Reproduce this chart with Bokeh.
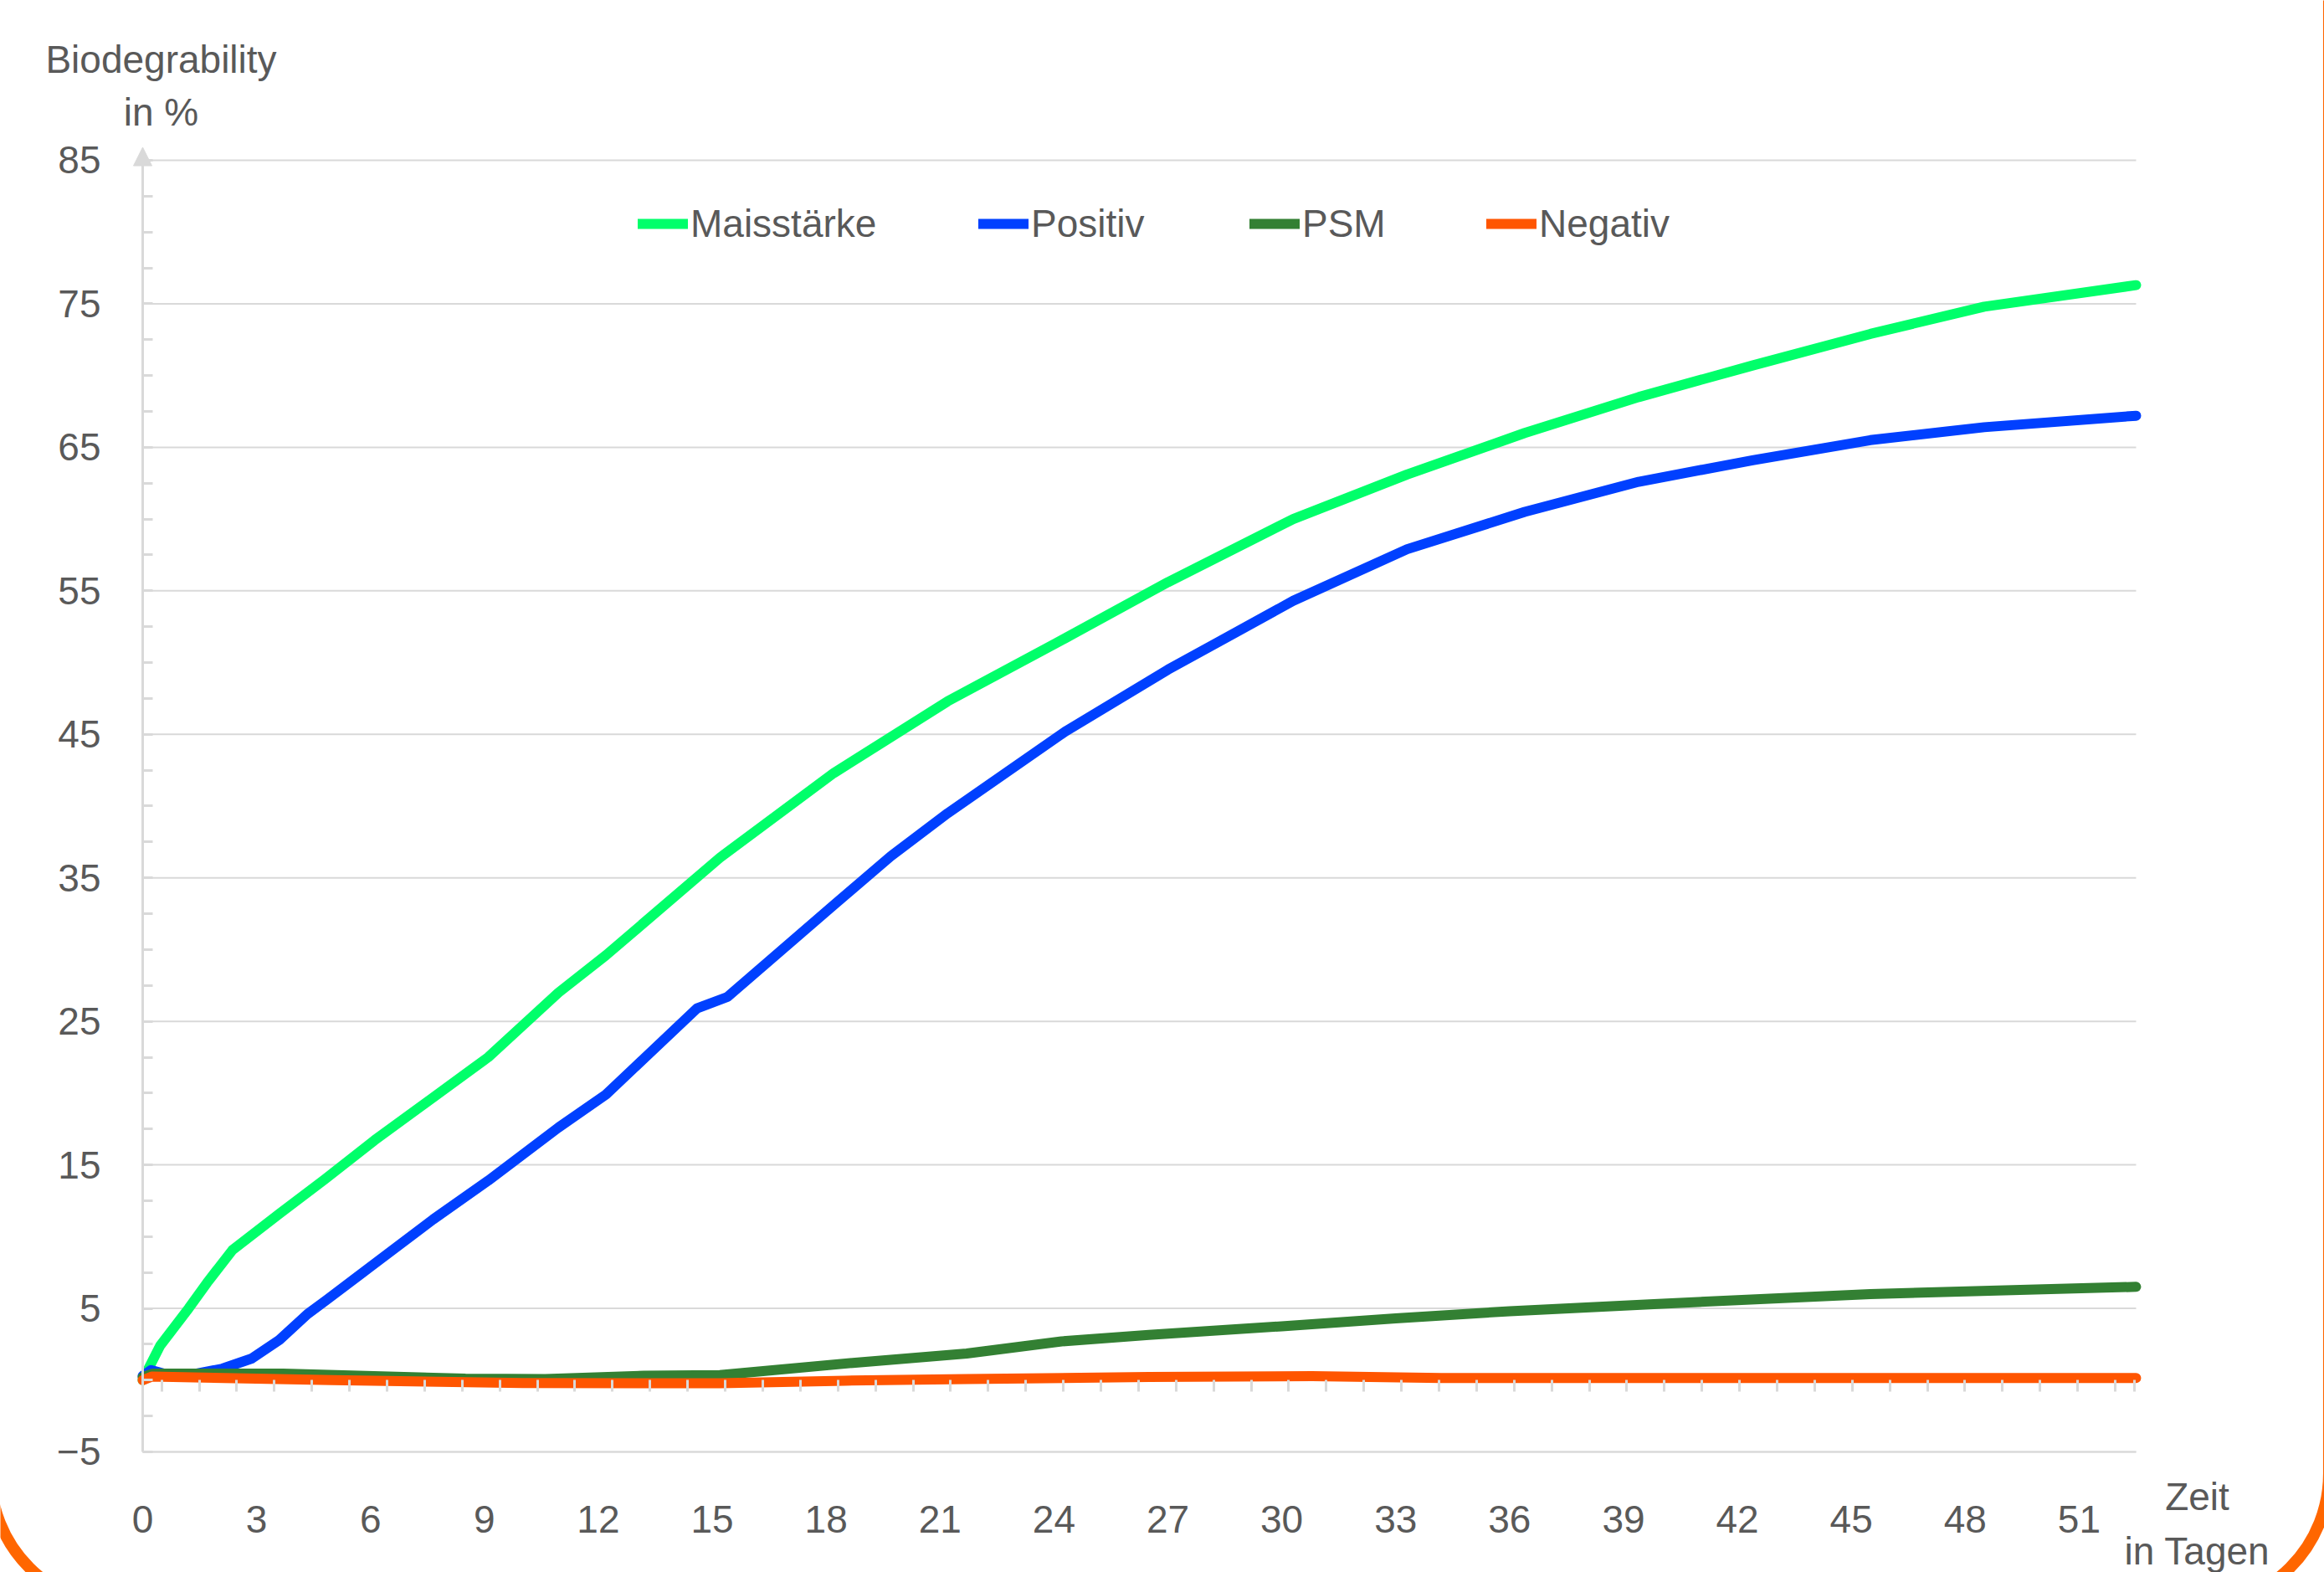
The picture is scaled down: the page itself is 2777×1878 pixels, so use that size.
import numpy as np
from bokeh.plotting import figure
from bokeh.models import (FixedTicker, LinearAxis, Range1d, Legend, LegendItem,
                          Label, Arrow, NormalHead, BoxAnnotation)
from bokeh.embed import file_html
from bokeh.resources import INLINE

# ---------------- data ----------------
mais_days = [0, 0.46, 1.21, 1.7, 2.36, 3.6, 4.8, 6.1, 9.1, 10.95, 12.2, 15.2,
             18.2, 21.2, 24.3, 27.0, 30.3, 33.3, 36.4, 39.4, 42.4, 45.5, 48.5, 52.5]
mais_vals = [0.0, 2.4, 5.0, 6.8, 9.05, 11.6, 14.0, 16.7, 22.5, 27.0, 29.6, 36.4,
             42.3, 47.3, 51.7, 55.6, 60.0, 63.1, 66.0, 68.5, 70.7, 72.9, 74.8, 76.3]

pos_days = [0, 0.22, 0.7, 1.4, 2.1, 2.87, 3.6, 4.34, 4.85, 5.95, 7.65, 9.1, 10.95, 12.2,
            14.6, 15.4, 18.2, 19.7, 21.2, 24.3, 27.0, 30.3, 33.3, 36.4, 39.4, 42.4,
            45.5, 48.5, 52.5]
pos_vals = [0.3, 0.7, 0.35, 0.45, 0.8, 1.5, 2.8, 4.6, 5.6, 7.8, 11.2, 13.9, 17.6, 19.9,
            25.9, 26.7, 33.1, 36.5, 39.5, 45.2, 49.5, 54.3, 57.9, 60.5, 62.6, 64.1,
            65.5, 66.4, 67.2]

psm_days = [0, 0.25, 3.7, 8.5, 10.6, 13.2, 15.2, 18.7, 21.7, 24.2, 26.5, 30.0, 33.0,
            36.0, 39.8, 45.5, 52.5]
psm_vals = [0.2, 0.45, 0.45, 0.1, 0.07, 0.3, 0.35, 1.2, 1.85, 2.7, 3.15, 3.75, 4.3,
            4.8, 5.3, 6.0, 6.5]

neg_days = [0, 0.25, 5.0, 10.0, 15.2, 18.5, 21.7, 26.5, 30.8, 34.2, 40.0, 52.5]
neg_vals = [0.0, 0.25, 0.0, -0.2, -0.22, -0.04, 0.07, 0.22, 0.28, 0.15, 0.14, 0.14]

series_names = ["Maisstärke", "Positiv", "PSM", "Negativ"]
series_colors = ["#00FF6A", "#0040FF", "#338033", "#FF5500"]

x_label_ticks = list(range(0, 52, 3))
x_minor_ticks = list(np.linspace(0.5, 51.95, 53)) + [52.45]
y_ticks = list(range(-5, 86, 10))
y_minor_ticks = list(np.arange(-5, 85.1, 2.5))

X_END = 52.5
Y_MIN = -5

FONT = "Liberation Sans"
FS = "46px"
TXT = "#595959"
GRID = "#D9D9D9"

# ---------------- figure (frame fills the whole canvas) ----------------
p = figure(width=2777, height=1878, output_backend="svg", toolbar_location=None, tools="",
           x_range=Range1d(-3.747, 57.46), y_range=Range1d(-13.40, 96.14),
           x_axis_location=None, y_axis_location=None,
           min_border=0)
p.outline_line_color = None
p.background_fill_color = "white"
p.border_fill_color = "white"
p.grid.visible = False

# horizontal grid lines
p.segment(x0=[0] * len(y_ticks), x1=[X_END] * len(y_ticks), y0=y_ticks, y1=y_ticks,
          line_color=GRID, line_width=2)

# y axis at x = 0
ya = LinearAxis(fixed_location=0, bounds=(Y_MIN, 85.5),
                ticker=FixedTicker(ticks=y_ticks, minor_ticks=y_minor_ticks),
                axis_line_color=GRID, axis_line_width=3,
                major_tick_in=0, major_tick_out=0,
                minor_tick_in=12, minor_tick_out=0,
                minor_tick_line_color=GRID, minor_tick_line_width=3,
                major_label_standoff=50, major_label_text_font=FONT,
                major_label_text_font_size=FS, major_label_text_color=TXT)
p.add_layout(ya, "left")

# x axis at y = -5 (labels)
xa = LinearAxis(fixed_location=Y_MIN, bounds=(0, X_END),
                ticker=FixedTicker(ticks=x_label_ticks),
                axis_line_color=GRID, axis_line_width=2,
                major_tick_in=0, major_tick_out=0, minor_tick_in=0, minor_tick_out=0,
                major_label_standoff=65, major_label_text_font=FONT,
                major_label_text_font_size=FS, major_label_text_color=TXT)
p.add_layout(xa, "below")

# tick marks along y = 0
tick_axis = LinearAxis(fixed_location=0, bounds=(0, X_END),
                       ticker=FixedTicker(ticks=[], minor_ticks=x_minor_ticks),
                       axis_line_color=None, major_tick_line_color=None,
                       major_label_text_alpha=0, major_label_text_font_size="1px",
                       minor_tick_in=0, minor_tick_out=14,
                       minor_tick_line_color=GRID, minor_tick_line_width=3)
p.add_layout(tick_axis, "below")

# arrow head on the y axis
p.add_layout(Arrow(x_start=0, y_start=85, x_end=0, y_end=85.9, line_alpha=0,
                   end=NormalHead(size=22, fill_color=GRID, line_color=GRID)))

# ---------------- lines ----------------
renderers = []
for xs, ys, col in zip([mais_days, pos_days, psm_days, neg_days],
                       [mais_vals, pos_vals, psm_vals, neg_vals], series_colors):
    r = p.line(xs, ys, line_width=12, line_color=col, line_cap="round", line_join="round")
    renderers.append(r)

# legend (one entry per legend so positions are fixed)
legend_x = [762, 1169, 1493, 1776]
for name, r, lx in zip(series_names, renderers, legend_x):
    leg = Legend(items=[LegendItem(label=name, renderers=[r])], location=(lx, 1584),
                 orientation="horizontal", glyph_width=60, glyph_height=46,
                 label_height=46, label_standoff=3, padding=0, margin=0,
                 border_line_color=None, background_fill_alpha=0,
                 label_text_font=FONT, label_text_font_size=FS, label_text_color=TXT)
    p.add_layout(leg, "center")

# axis titles
for txt, xx, yy in [("Biodegrability", 0.485, 92.0), ("in %", 0.485, 88.38),
                    ("Zeit", 54.11, -8.15), ("in Tagen", 54.11, -11.94)]:
    p.add_layout(Label(x=xx, y=yy, text=txt, text_align="center", text_baseline="middle",
                       text_font=FONT, text_font_size=FS, text_color=TXT))

# orange rounded frame (mostly beyond the canvas edges)
p.add_layout(BoxAnnotation(left=-4.01, right=57.58, bottom=-15.79, top=107.8,
                           fill_alpha=0, line_color="#FF6600", line_alpha=1.0,
                           line_width=14, border_radius=159, level="overlay"))

open("out.html", "w").write(file_html(p, INLINE))
